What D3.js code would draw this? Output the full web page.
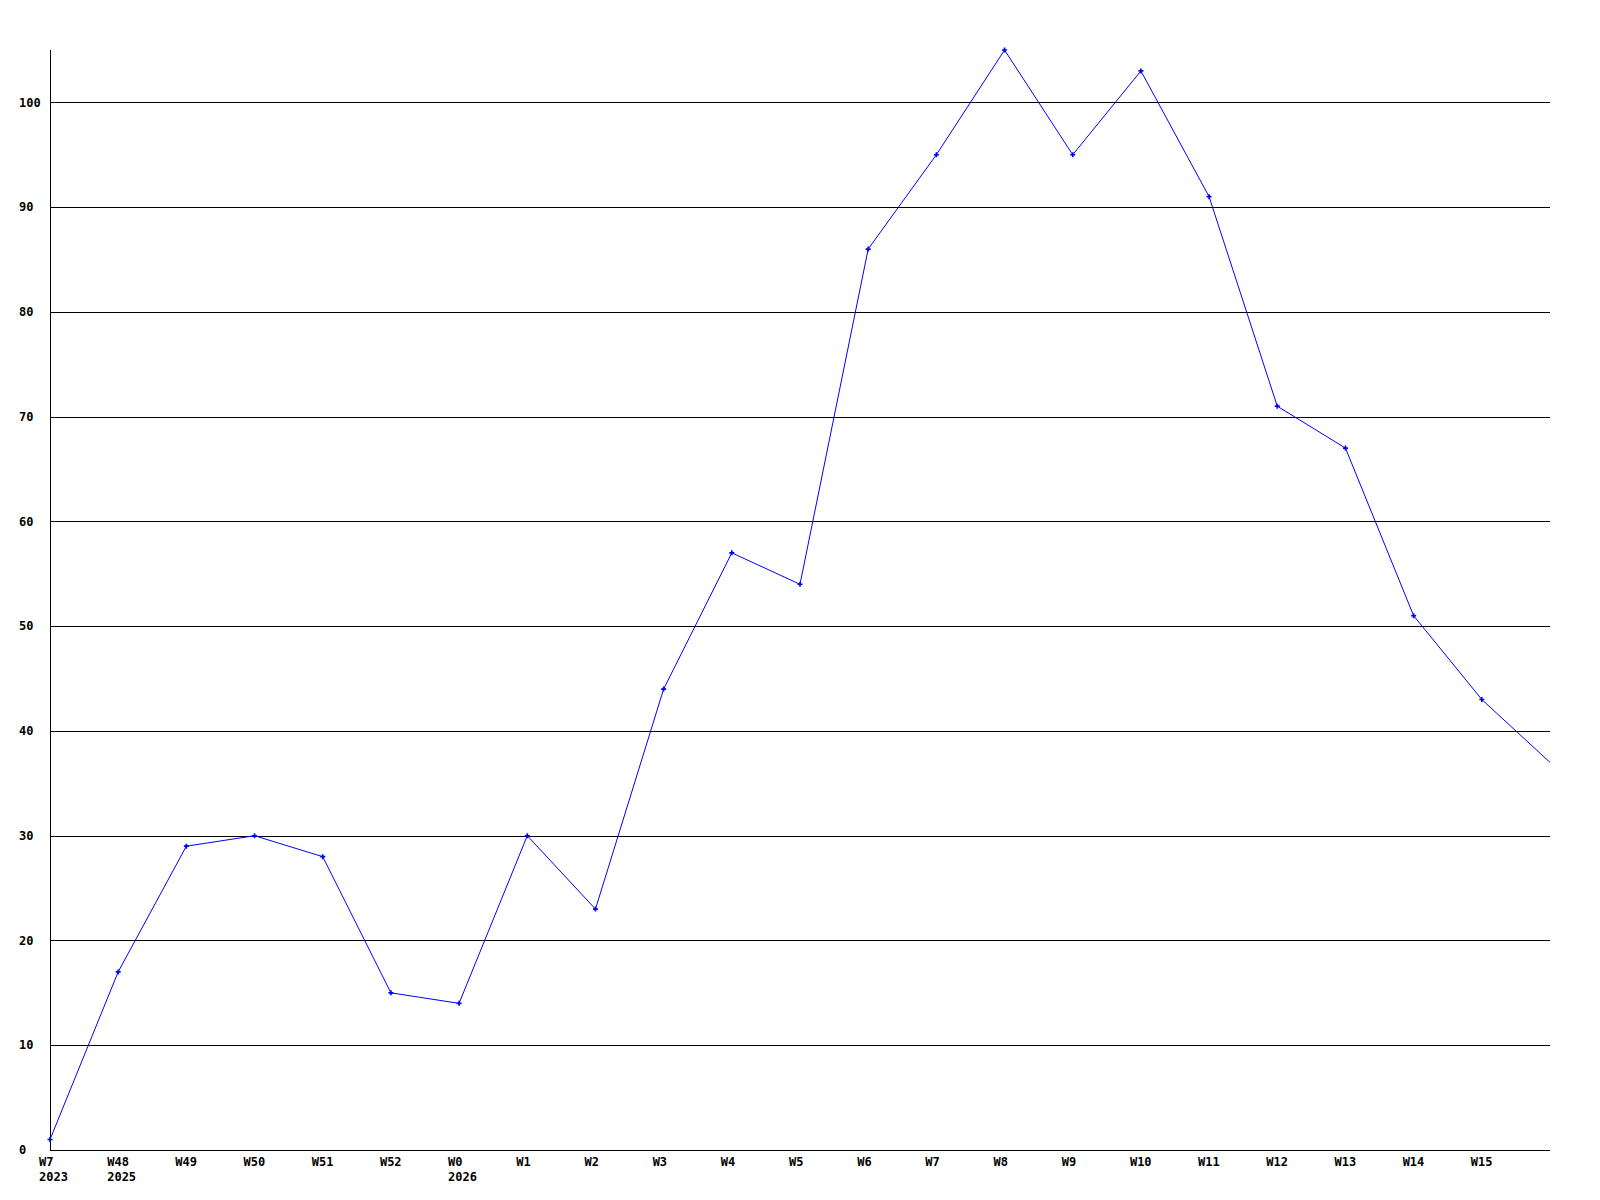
<!DOCTYPE html>
<html>
<head>
<meta charset="utf-8">
<script src="https://cdn.jsdelivr.net/npm/d3@7"></script>
<style>
  body { margin: 0; background: #fff; }
  text { font-family: "DejaVu Sans Mono", "Liberation Mono", monospace; font-weight: bold; font-size: 12px; fill: #000; }
</style>
</head>
<body>
<script>
const width = 1600;
const height = 1200;
const plotLeft = 50, plotRight = 1550, plotTop = 50, plotBottom = 1150;

// weekly counts
const weeks = ["W7", "W48", "W49", "W50", "W51", "W52", "W0", "W1", "W2", "W3", "W4", "W5",
  "W6", "W7", "W8", "W9", "W10", "W11", "W12", "W13", "W14", "W15"];
const years = ["2023", "2025", "", "", "", "", "2026", "", "", "", "", "",
  "", "", "", "", "", "", "", "", "", ""];
const counts = [1, 17, 29, 30, 28, 15, 14, 30, 23, 44, 57, 54,
  86, 95, 105, 95, 103, 91, 71, 67, 51, 43, 37];
const yTicks = [0, 10, 20, 30, 40, 50, 60, 70, 80, 90, 100];

const svg = d3.select("body").append("svg")
  .attr("width", width).attr("height", height);

const x = d3.scaleLinear().domain([0, counts.length - 1]).range([plotLeft, plotRight]);
const y = d3.scaleLinear().domain([0, 105]).range([plotBottom, plotTop]);

//-----grid lines-----
svg.append("g").selectAll("line").data(yTicks.filter(d => d > 0)).enter()
  .append("line")
  .attr("x1", plotLeft).attr("x2", plotRight)
  .attr("y1", d => Math.round(y(d)) + 0.5).attr("y2", d => Math.round(y(d)) + 0.5)
  .attr("stroke", "#000").attr("stroke-width", 1)
  .attr("shape-rendering", "crispEdges");

//-----axes-----
svg.append("line").attr("x1", plotLeft + 0.5).attr("x2", plotLeft + 0.5)
  .attr("y1", plotTop).attr("y2", plotBottom + 0.5)
  .attr("stroke", "#000").attr("shape-rendering", "crispEdges");
svg.append("line").attr("x1", plotLeft).attr("x2", plotRight)
  .attr("y1", plotBottom + 0.5).attr("y2", plotBottom + 0.5)
  .attr("stroke", "#000").attr("shape-rendering", "crispEdges");

//-----y labels (left aligned)-----
svg.append("g").selectAll("text").data(yTicks).enter()
  .append("text")
  .attr("x", 19)
  .attr("y", d => y(d))
  .attr("dy", "0.35em")
  .text(d => d);

//-----x labels-----
const xl = svg.append("g").selectAll("g").data(weeks).enter()
  .append("g")
  .attr("transform", (d, i) => "translate(" + (x(i) - 11) + ",0)");
xl.append("text").attr("y", 1162).attr("dy", "0.35em").text(d => d);
xl.append("text").attr("y", 1177).attr("dy", "0.35em").text((d, i) => years[i]);

//-----line-----
const line = d3.line().x((d, i) => x(i)).y(d => y(d));
svg.append("path").datum(counts)
  .attr("d", line)
  .attr("fill", "none")
  .attr("stroke", "#0000ff")
  .attr("stroke-width", 1);

//-----markers-----
svg.append("g").selectAll("path").data(counts.slice(0, weeks.length)).enter()
  .append("path")
  .attr("d", d3.symbol(d3.symbolCross).size(14))
  .attr("transform", (d, i) => "translate(" + x(i) + "," + y(d) + ")")
  .attr("fill", "#0000ff");
</script>
</body>
</html>
